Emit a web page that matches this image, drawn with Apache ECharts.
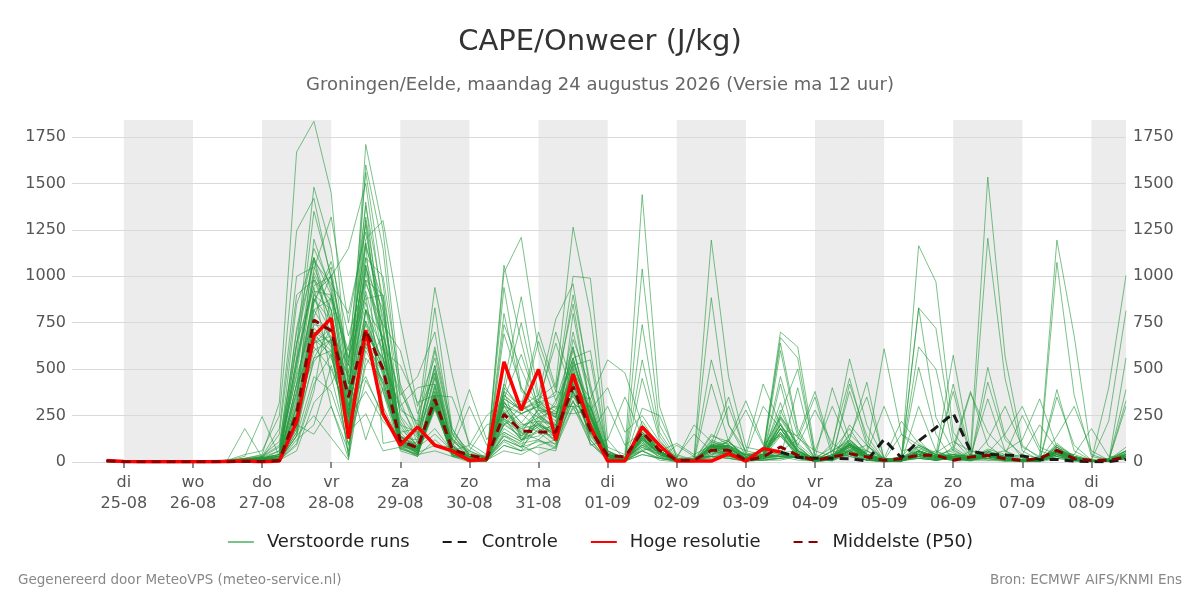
<!DOCTYPE html>
<html><head><meta charset="utf-8">
<script src="https://cdn.jsdelivr.net/npm/echarts@6/dist/echarts.min.js"></script>
<style>html,body{margin:0;padding:0;background:#fff}#c{width:1200px;height:600px}</style>
</head><body><div id="c"></div>
<script>
const FONT = 'DejaVu Sans';
const weekdays = ['zo','ma','di','wo','do','vr','za'];
const firstHour = 18;   // first step: 24-08 18:00 (hours after 24-08 00:00)
const stepHours = 6;
const axisMinHour = 6, axisMaxHour = 372;

const hres = [8,3,2,2,1,2,1,3,5,2, 5,216,679,774,126,711,261,90,189,90, 60,8,15,540,279,499,117,473,189,5, 5,189,90,5,5,5,45,5,72,54];
const median = [5,2,1,1,1,1,1,2,3,3, 8,260,765,706,350,710,500,113,77,338, 68,36,18,257,167,162,162,405,171,36, 27,162,63,9,9,63,63,9,27,81, 36,9,27,45,27,9,18,36,36,9, 27,36,18,9,18,63,18,9,9,27];
const controlTail = [54,25,20,20,18,5,122,23,113,185,262,59,41,38,32,14,14,5,2,2,14];
const control = Array(39).fill(null).concat(controlTail);

const run01=[5,2,1,0,0,1,0,5,20,40, 320,1670,1835,1450,420,980,640,180,90,180, 60,20,10,180,120,210,140,380,160,30, 10,120,40,5,10,60,40,10,30,420, 60,10,20,80,30,10,5,60,30,50, 20,70,40,10,5,40,20,5,10,60];
const run02=[8,3,1,1,0,2,1,12,180,25, 5,420,880,760,210,640,380,60,30,410, 40,10,5,320,210,160,90,800,300,20, 5,80,30,0,5,40,90,5,20,40, 20,5,10,40,10,5,20,510,150,5, 10,30,10,5,10,80,10,5,5,20];
const run03=[4,1,0,2,1,0,0,8,30,245, 30,380,720,640,30,820,520,90,60,300, 80,15,5,250,140,220,310,560,600,60, 20,180,60,10,5,90,30,5,10,20, 30,5,40,60,10,0,10,40,20,10, 30,20,10,5,10,50,10,5,5,330];
const run04=[6,2,1,0,1,1,0,10,40,60, 250,1245,1420,980,300,1100,720,140,40,380, 50,30,10,90,60,120,80,450,120,10, 5,60,20,5,0,120,80,20,60,150, 40,5,10,120,40,5,0,300,60,20, 5,40,10,5,0,20,10,5,10,40];
const run05=[3,1,0,0,0,1,1,6,15,30, 180,1000,1050,820,260,760,460,70,110,450, 90,10,30,200,300,240,180,520,550,40, 30,60,90,10,20,30,120,5,40,30, 10,5,30,40,60,20,10,80,40,575, 60,30,10,0,5,60,40,10,5,20];
const run06=[5,2,1,1,0,0,0,4,10,20, 150,900,980,870,350,920,560,220,70,330, 120,60,20,140,80,300,220,620,210,10, 5,40,20,5,10,20,60,10,30,260, 500,40,10,90,20,5,30,20,10,420, 40,10,5,10,5,30,5,0,20,40];
const run07=[7,3,1,0,0,1,0,3,8,15, 60,850,1100,900,380,1180,780,300,140,520, 90,10,5,220,160,280,260,480,340,550, 480,200,50,10,5,30,20,5,20,30, 30,5,60,30,10,5,10,20,10,30, 10,10,20,5,10,40,10,5,10,300];
const run08=[5,1,0,1,1,0,0,6,12,20, 40,620,1480,1150,480,1020,640,120,50,290, 40,5,10,60,40,90,120,330,100,10, 5,110,20,5,0,40,30,20,10,20, 400,20,30,40,10,5,5,30,60,10, 20,20,5,10,5,70,30,10,5,20];
const run09=[4,2,1,0,0,1,0,9,5,10, 20,560,1350,1000,560,880,900,380,200,620, 180,40,30,420,260,310,240,600,280,400, 160,250,110,20,5,80,60,10,30,240, 90,5,10,60,90,20,10,50,30,380, 20,60,30,5,10,20,5,0,5,50];
const run10=[5,1,1,0,1,0,0,3,6,12, 10,300,1200,920,250,1060,640,90,30,350, 30,0,5,150,90,40,80,290,150,300, 90,160,60,5,10,150,90,30,50,50, 60,20,5,50,30,10,30,120,20,80, 380,90,20,10,5,50,20,5,10,30];
const run11=[3,1,0,1,0,0,1,5,10,15, 30,480,1040,1320,750,1280,600,160,60,420, 110,50,20,270,180,200,110,450,210,30, 20,80,40,0,5,50,30,40,20,180, 140,380,60,110,40,5,20,40,10,30, 20,30,10,5,5,80,20,10,5,20];
const run12=[6,2,0,0,0,1,0,8,18,10, 20,260,860,1050,420,860,480,100,80,150, 60,20,40,380,120,160,140,510,90,120, 350,140,90,10,20,60,50,5,10,20, 30,5,40,30,10,5,10,20,40,60, 370,160,60,20,5,30,10,5,5,40];
const run13=[4,2,1,0,0,0,0,5,8,30, 90,540,950,1000,1150,1500,820,250,130,460, 70,30,10,110,60,240,160,420,200,30, 10,200,60,10,5,80,40,5,20,60, 120,350,30,90,20,5,10,50,30,20, 10,20,5,5,5,40,10,5,10,50];
const run14=[5,1,1,0,0,1,0,7,14,25, 60,700,1080,960,800,1240,700,200,60,310, 40,10,5,260,330,200,150,660,400,80, 40,1440,300,20,5,140,110,30,60,200, 80,10,30,150,60,5,20,90,50,110, 60,1535,570,90,20,60,20,5,10,30];
const run15=[3,1,0,1,0,0,0,4,10,20, 20,420,900,820,300,1710,1250,400,150,520, 130,20,10,230,180,280,200,540,270,40, 20,90,30,5,0,50,40,10,20,40, 20,5,10,60,30,5,10,30,10,20, 20,1205,450,60,10,80,20,5,5,20];
const run16=[6,2,1,0,0,1,0,6,20,35, 110,640,1100,780,240,1600,1150,330,100,480, 60,0,5,140,100,120,70,480,180,10, 5,60,10,0,10,30,20,5,10,230, 90,280,100,40,10,5,10,20,10,30, 10,30,20,5,5,50,10,5,20,60];
const run17=[4,1,0,0,1,0,0,5,12,18, 10,300,880,700,520,1560,960,240,80,360, 50,40,20,320,210,330,240,700,320,20, 10,1040,200,30,10,100,60,10,40,320, 40,10,60,180,40,10,5,60,30,70, 10,510,140,20,10,90,30,5,10,80];
const run18=[5,2,1,1,0,0,1,9,15,25, 40,520,1000,760,380,1400,620,70,40,60, 30,10,5,90,60,80,60,380,140,20, 5,40,20,5,5,30,30,20,10,10, 30,20,400,120,40,10,5,40,20,10, 20,30,10,10,5,30,10,5,5,30];
const run19=[4,1,0,0,0,1,0,3,6,10, 15,180,820,880,600,1380,870,140,90,400, 90,20,10,200,140,220,200,440,240,20, 10,740,160,20,5,90,70,40,30,180, 60,20,10,200,90,10,5,90,40,20, 10,430,120,40,20,60,10,5,5,40];
const run20=[5,2,1,0,1,0,0,6,10,22, 30,360,920,900,540,1200,1300,760,300,560, 160,60,20,120,80,180,120,360,160,30, 10,160,40,5,10,80,50,10,70,240, 130,60,300,90,40,20,10,60,10,30, 20,40,10,5,5,70,20,10,5,30];
const run21=[6,2,0,1,0,0,0,8,16,28, 80,460,780,1010,520,1100,1000,420,180,500, 70,30,5,270,190,240,280,560,250,50, 20,550,140,10,5,60,90,20,30,150, 40,10,30,110,40,5,30,60,20,40, 30,340,60,10,5,40,10,5,10,40];
const run22=[3,1,0,0,0,1,0,4,8,12, 10,140,680,600,200,960,740,600,260,480, 120,20,10,310,140,190,330,520,260,10, 5,450,120,10,5,110,80,10,40,210, 60,5,10,60,10,0,5,30,10,20, 10,120,300,80,30,60,10,5,5,20];
const run23=[5,2,1,0,0,0,0,6,12,18, 20,220,760,620,40,820,600,520,320,360, 80,40,20,240,120,140,220,400,210,60, 10,290,250,40,10,80,60,20,30,160, 20,5,30,50,30,5,10,40,20,10, 60,50,150,300,80,40,20,5,10,30];
const run24=[4,1,0,1,0,1,0,5,10,15, 10,180,640,720,340,820,680,360,460,700, 150,30,10,160,110,250,180,440,290,40, 10,130,50,10,5,70,110,30,60,250, 100,20,80,555,200,20,10,60,20,30, 40,40,20,10,5,60,20,5,5,40];
const run25=[6,3,1,0,0,0,1,10,18,20, 40,320,700,560,280,760,540,300,400,420, 100,10,5,200,260,180,110,330,120,10, 5,70,60,100,40,90,60,10,20,30, 40,5,20,60,30,10,5,20,10,20, 10,20,40,250,60,30,10,5,5,20];
const run26=[5,1,0,0,0,0,0,4,12,20, 40,260,820,660,180,700,560,280,220,940, 470,80,20,280,200,220,140,460,210,40, 20,150,60,10,5,60,90,40,60,280, 80,10,100,450,110,10,5,60,30,40, 20,60,20,10,5,90,30,10,5,60];
const run27=[4,2,1,1,0,1,0,7,12,16, 20,200,150,300,20,640,480,200,160,830, 180,30,10,120,80,110,100,300,100,20, 5,60,20,90,30,30,20,5,20,40, 30,10,20,80,20,5,5,30,10,20, 10,40,60,120,340,80,30,5,10,20];
const run28=[3,1,0,0,0,0,0,5,8,10, 10,140,250,130,10,560,440,130,120,600, 150,40,20,210,130,190,160,420,180,30, 10,220,80,20,200,110,70,20,40,200, 50,10,40,100,30,10,20,50,20,30, 10,30,20,40,200,70,20,10,5,30];
const run29=[5,2,0,0,1,0,0,6,10,12, 20,240,600,660,280,700,520,160,180,360, 350,100,40,300,160,120,200,460,190,20, 10,120,70,30,150,60,40,10,30,30, 30,5,20,420,140,10,10,40,20,10, 20,30,10,5,10,50,20,5,5,20];
const run30=[6,2,1,0,0,0,0,8,14,18, 30,280,740,720,380,620,440,100,60,300, 120,390,120,260,170,260,180,500,230,40, 20,90,60,10,30,1195,460,80,60,180, 70,10,20,100,30,5,10,60,30,20, 10,40,20,10,30,1195,680,40,10,60];
const run31=[4,1,0,1,0,1,0,5,10,15, 10,200,640,680,460,120,400,90,50,90, 80,300,90,160,110,210,130,380,150,10, 5,100,60,10,20,885,200,60,40,160, 60,10,30,380,90,5,20,70,40,30, 20,50,30,10,5,100,30,5,5,30];
const run32=[5,2,1,0,0,0,0,4,6,10, 10,160,560,600,340,740,500,80,40,300, 60,90,250,330,150,200,170,480,200,60, 10,160,70,20,10,550,200,30,20,140, 30,5,10,70,30,5,20,40,20,30, 30,60,20,10,5,1075,360,30,10,40];
const run33=[3,1,0,0,0,0,0,3,5,8, 5,120,200,520,220,680,420,70,40,320, 50,60,200,230,120,170,200,430,160,20, 5,140,40,10,5,420,110,20,30,40, 40,10,60,120,430,10,5,40,20,20, 10,50,20,5,10,40,10,5,5,20];
const run34=[5,2,1,0,0,1,0,6,10,14, 15,220,660,580,160,260,60,80,30,120, 40,10,5,1060,650,280,240,560,240,30, 10,120,50,10,5,60,40,10,20,20, 30,5,20,60,20,5,10,40,10,20, 20,30,30,10,5,390,60,10,5,30];
const run35=[4,1,0,0,1,0,0,5,12,16, 30,260,700,640,240,660,500,120,70,340, 60,20,10,1020,1210,600,330,620,240,40, 10,170,60,10,5,70,50,20,30,50, 40,10,30,140,350,20,10,60,30,40, 10,50,30,10,5,60,20,5,5,40];
const run36=[6,2,1,1,0,0,0,7,12,20, 20,520,1100,640,180,1040,820,110,80,380, 70,30,10,940,400,250,190,540,260,30, 10,110,50,5,10,100,350,40,40,30, 30,5,20,60,20,5,10,30,20,40, 30,40,20,10,5,350,90,10,5,30];
const run37=[4,1,0,0,0,1,0,4,8,12, 10,90,380,900,560,1180,100,120,60,300, 30,20,5,800,380,320,250,470,250,20, 5,90,40,10,5,70,300,50,20,40, 20,5,20,90,60,610,150,90,40,30, 20,30,10,5,5,40,20,5,5,20];
const run38=[5,2,1,0,0,0,0,6,12,18, 20,640,940,460,90,520,680,140,70,340, 60,20,10,740,500,290,260,380,260,50, 10,130,50,10,5,90,120,330,100,140, 40,10,30,90,50,300,60,80,30,20, 10,40,20,10,5,50,20,5,5,20];
const run39=[3,1,0,0,0,0,0,5,10,12, 10,60,320,420,620,900,300,100,50,300, 40,10,5,690,400,260,300,300,220,30, 5,100,40,10,5,80,110,280,90,50, 30,5,20,70,30,5,10,40,20,30, 10,30,20,10,10,140,300,60,10,30];
const run40=[5,2,1,0,0,1,0,7,12,14, 20,380,1020,820,200,1320,740,120,60,320, 60,20,10,420,890,360,290,300,300,40, 10,150,60,10,5,90,100,60,420,200, 60,10,20,100,40,20,220,100,40,30, 10,40,20,10,5,60,20,5,5,30];
const run41=[4,1,0,1,0,0,0,5,8,10, 10,140,460,380,100,440,260,100,40,280, 50,10,5,380,750,330,270,260,280,30, 5,130,50,10,5,80,90,40,300,180, 50,10,20,80,30,5,10,50,20,20, 20,30,20,10,5,50,40,180,30,30];
const run42=[6,2,1,0,0,0,0,6,14,20, 30,720,1150,940,420,1060,560,140,80,360, 80,20,10,340,580,300,240,320,240,30, 10,130,50,10,5,80,90,30,60,700, 620,60,30,120,40,10,10,60,30,30, 10,40,20,10,5,60,20,5,5,30];
const run43=[5,1,0,0,0,1,0,5,10,16, 20,300,560,720,240,380,220,120,70,340, 60,20,10,380,300,700,400,850,300,40, 10,140,60,10,5,90,80,20,40,160, 40,10,20,80,30,10,150,60,20,30, 20,40,20,10,20,60,20,10,400,1005];
const run44=[4,2,0,0,0,0,0,5,10,12, 10,160,860,1080,680,980,900,110,60,320, 50,20,5,360,280,650,380,350,260,30, 10,120,50,10,5,80,70,20,40,670, 560,30,20,100,30,10,10,60,30,20, 10,30,20,10,5,50,20,5,5,30];
const run45=[5,2,1,0,0,0,0,6,12,18, 20,420,620,500,260,820,380,130,70,360, 70,20,10,400,300,360,770,960,380,40, 10,150,60,10,5,90,80,20,40,180, 40,10,30,90,40,10,20,1165,970,160, 30,40,20,10,5,60,20,5,5,30];
const run46=[4,1,0,0,0,1,0,4,8,10, 10,100,420,580,130,600,420,100,50,300, 40,10,5,300,260,300,700,400,300,30, 10,120,50,10,5,80,70,20,60,640, 180,20,30,90,30,10,10,60,30,20, 10,40,20,10,5,60,20,10,220,815];
const run47=[6,2,1,0,0,0,0,6,14,20, 30,560,980,760,360,1160,860,140,80,340, 60,20,10,340,280,330,640,360,340,40, 10,140,60,10,5,90,80,20,40,600, 160,20,30,100,40,10,20,830,720,120, 20,40,20,10,5,60,20,5,5,30];
const run48=[5,2,1,0,0,0,0,5,10,14, 20,240,700,300,60,680,560,120,60,320, 60,20,10,360,280,340,420,1265,800,60, 20,160,60,10,5,90,80,20,40,200, 60,10,30,100,40,10,20,830,240,60, 20,40,20,10,5,60,30,5,5,560];
const run49=[4,1,0,0,0,1,0,5,8,12, 10,340,900,1000,460,1300,620,110,50,300, 50,10,5,320,260,300,380,1000,990,120, 10,130,50,10,5,80,70,20,40,180, 50,10,20,90,30,10,20,620,500,80, 20,40,20,10,5,60,20,5,5,30];
const run50=[5,2,1,0,0,0,0,6,12,16, 20,200,540,660,300,460,240,120,70,340, 60,20,10,340,280,320,360,900,420,50, 10,140,60,10,5,80,80,20,40,460, 140,20,30,90,40,10,20,60,30,40, 20,40,20,10,5,60,20,5,5,390];

const runs = [run01,run02,run03,run04,run05,run06,run07,run08,run09,run10,
  run11,run12,run13,run14,run15,run16,run17,run18,run19,run20,
  run21,run22,run23,run24,run25,run26,run27,run28,run29,run30,
  run31,run32,run33,run34,run35,run36,run37,run38,run39,run40,
  run41,run42,run43,run44,run45,run46,run47,run48,run49,run50];

runs.forEach((r, k) => { if (r.length !== 60) throw new Error('run ' + (k + 1) + ' has ' + r.length + ' values'); });
if (median.length !== 60 || control.length !== 60) throw new Error('median/control length');

const hours = run01.map((_, i) => firstHour + i * stepHours);
const base = Date.UTC(2026, 7, 24);
const pad = n => String(n).padStart(2, '0');
function dayLabel(h) {
  const d = new Date(base + h * 3600000);
  return weekdays[d.getUTCDay()] + '\n' + pad(d.getUTCDate()) + '-' + pad(d.getUTCMonth() + 1);
}
const dayTicks = [];
for (let h = 24; h < axisMaxHour; h += 24) dayTicks.push(h);
const bands = [];
for (let h = 24; h < axisMaxHour; h += 48) bands.push([{ xAxis: h }, { xAxis: Math.min(h + 24, axisMaxHour) }]);

const toPairs = arr => arr.map((v, i) => [hours[i], v]);

const chart = echarts.init(document.getElementById('c'), null, { renderer: 'canvas' });
const series = [{
  type: 'line', data: [], silent: true, z: 1,
  markArea: { silent: true, z: 1, itemStyle: { color: '#ececec' }, data: bands }
}];
runs.forEach(r => series.push({
  type: 'line', name: 'Verstoorde runs', data: toPairs(r), symbol: 'none', showSymbol: false,
  silent: true, z: 3, lineStyle: { color: '#23993a', width: 1, opacity: 0.6 }, itemStyle: { color: '#23993a' }
}));
series.push({ type: 'line', name: 'Controle', data: toPairs(control), symbol: 'none', z: 4, silent: true,
  lineStyle: { color: '#1a1a1a', width: 3, type: [9, 6] }, itemStyle: { color: '#1a1a1a' } });
series.push({ type: 'line', name: 'Hoge resolutie', data: toPairs(hres), symbol: 'none', z: 5, silent: true,
  lineStyle: { color: '#ff0000', width: 3.5 }, itemStyle: { color: '#ff0000' } });
series.push({ type: 'line', name: 'Middelste (P50)', data: toPairs(median), symbol: 'none', z: 6, silent: true,
  lineStyle: { color: '#8b0000', width: 3, type: [9, 6] }, itemStyle: { color: '#8b0000' } });

const yCommon = {
  type: 'value', min: 0, max: 1842, interval: 250, z: 2,
  axisLine: { show: false }, axisTick: { show: false }
};

chart.setOption({
  animation: false,
  backgroundColor: '#ffffff',
  textStyle: { fontFamily: FONT },
  title: [
    { text: 'CAPE/Onweer (J/kg)', left: 'center', top: 28, padding: 0,
      textStyle: { fontSize: 29, fontWeight: 'normal', color: '#333', fontFamily: FONT } },
    { text: 'Groningen/Eelde, maandag 24 augustus 2026 (Versie ma 12 uur)', left: 'center', top: 76, padding: 0,
      textStyle: { fontSize: 18, fontWeight: 'normal', color: '#666', fontFamily: FONT } },
    { text: 'Gegenereerd door MeteoVPS (meteo-service.nl)', left: 18, top: 573, padding: 0,
      textStyle: { fontSize: 13.5, fontWeight: 'normal', color: '#888', fontFamily: FONT } },
    { text: 'Bron: ECMWF AIFS/KNMI Ens', right: 18, top: 573, padding: 0,
      textStyle: { fontSize: 13.5, fontWeight: 'normal', color: '#888', fontFamily: FONT } }
  ],
  legend: {
    data: ['Verstoorde runs', 'Controle', 'Hoge resolutie', 'Middelste (P50)'],
    left: 'center', top: 533, padding: 0, itemWidth: 26, itemHeight: 14, itemGap: 32,
    selectedMode: false,
    itemStyle: { opacity: 0 },
    textStyle: { fontSize: 18, color: '#222', fontFamily: FONT, padding: [0, 0, 0, 8] }
  },
  grid: { left: 72, right: 74, top: 120, bottom: 138, containLabel: false, outerBoundsMode: 'none' },
  xAxis: {
    type: 'value', min: axisMinHour, max: axisMaxHour, z: 2,
    splitLine: { show: false }, axisLine: { show: false },
    axisTick: { show: true, customValues: dayTicks, length: 6, lineStyle: { color: '#666', width: 1.5 } },
    axisLabel: { customValues: dayTicks, formatter: v => dayLabel(v), color: '#555', fontSize: 16,
      lineHeight: 21, margin: 10, fontFamily: FONT }
  },
  yAxis: [
    Object.assign({}, yCommon, { position: 'left',
      axisLabel: { showMaxLabel: false, formatter: v => String(v), color: '#555', fontSize: 16, margin: 6, fontFamily: FONT },
      splitLine: { show: true, showMaxLine: false, lineStyle: { color: '#d9d9d9', width: 1 } } }),
    Object.assign({}, yCommon, { position: 'right',
      axisLabel: { showMaxLabel: false, formatter: v => String(v), color: '#555', fontSize: 16, margin: 7, fontFamily: FONT },
      splitLine: { show: false } })
  ],
  series: series
});
</script>
</body></html>
